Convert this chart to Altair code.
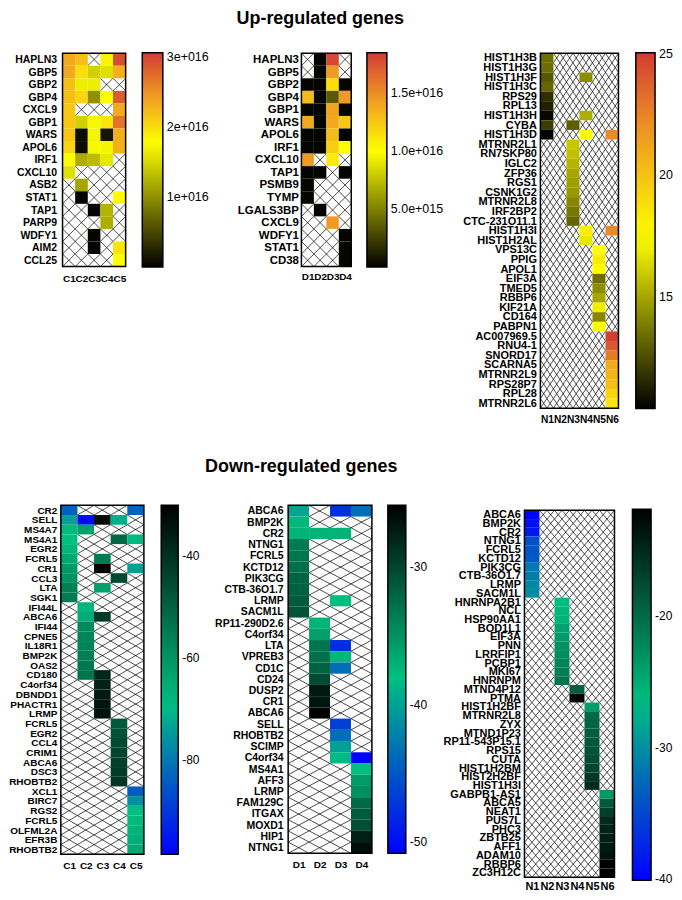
import altair as alt
import pandas as pd

N = None
FONT = "Liberation Sans"
E16 = 1e16

# ------------------------------------------------------------------ data
UP_C_COLS = ["C1", "C2", "C3", "C4", "C5"]
UP_C_GENES = ["HAPLN3", "GBP5", "GBP2", "GBP4", "CXCL9", "GBP1", "WARS", "APOL6", "IRF1",
              "CXCL10", "ASB2", "STAT1", "TAP1", "PARP9", "WDFY1", "AIM2", "CCL25"]
UP_C_VALUES = [  # units of 1e16
    [2.35, 2.2, N, 1.85, 2.95],
    [2.35, 2.0, 1.45, 1.55, 2.3],
    [2.2, 1.65, 1.65, N, N],
    [2.2, 2.05, 1.0, 1.77, 2.85],
    [2.15, N, N, N, 2.35],
    [2.15, 1.45, 1.72, 1.95, 2.7],
    [2.15, 0.1, 1.7, 0.15, 2.3],
    [2.05, 0.1, 1.72, 1.7, 2.3],
    [1.8, 1.2, 1.3, 1.6, N],
    [1.55, N, N, N, N],
    [N, 1.15, N, N, N],
    [N, 0.03, N, N, 1.8],
    [N, N, 0.03, 1.25, N],
    [N, N, N, 1.2, N],
    [N, N, 0.03, N, N],
    [N, N, 0.03, N, 1.95],
    [N, N, N, N, 1.8],
]

UP_D_COLS = ["D1", "D2", "D3", "D4"]
UP_D_GENES = ["HAPLN3", "GBP5", "GBP2", "GBP4", "GBP1", "WARS", "APOL6", "IRF1", "CXCL10",
              "TAP1", "PSMB9", "TYMP", "LGALS3BP", "CXCL9", "WDFY1", "STAT1", "CD38"]
UP_D_VALUES = [  # units of 1e16
    [N, 0.02, 1.8, N],
    [N, 0.02, 1.45, N],
    [0.02, 0.02, 1.15, 0.02],
    [1.3, 0.02, 0.35, 1.45],
    [0.02, 0.02, 1.4, 0.02],
    [1.38, 0.02, 1.38, 1.25],
    [0.02, 0.02, 1.3, 0.02],
    [0.02, 0.02, 1.22, 1.0],
    [1.45, N, 1.1, N],
    [0.02, 0.02, N, 0.02],
    [0.02, N, N, N],
    [0.02, N, N, N],
    [N, 0.02, N, N],
    [N, N, 1.45, N],
    [N, N, N, 0.02],
    [N, N, N, 0.02],
    [N, N, N, 0.02],
]

UP_N_COLS = ["N1", "N2", "N3", "N4", "N5", "N6"]
UP_N_GENES = ["HIST1H3B", "HIST1H3G", "HIST1H3F", "HIST1H3C", "RPS29", "RPL13", "HIST1H3H",
              "CYBA", "HIST1H3D", "MTRNR2L1", "RN7SKP80", "IGLC2", "ZFP36", "RGS1", "CSNK1G2",
              "MTRNR2L8", "IRF2BP2", "CTC-231O11.1", "HIST1H3I", "HIST1H2AL", "VPS13C", "PPIG",
              "APOL1", "EIF3A", "TMED5", "RBBP6", "KIF21A", "CD164", "PABPN1", "AC007969.5",
              "RNU4-1", "SNORD17", "SCARNA5", "MTRNR2L9", "RPS28P7", "RPL28", "MTRNR2L6"]
UP_N_VALUES = [
    [13.4, N, N, N, N, N],
    [13.4, N, N, N, N, N],
    [12.8, N, N, 14.3, N, N],
    [13.2, N, N, N, N, N],
    [11.7, N, N, N, N, N],
    [11.3, N, N, N, N, N],
    [10.6, N, N, 15.2, N, N],
    [12.1, N, 13.0, N, N, N],
    [10.45, N, N, 17.4, N, 22.3],
    [N, N, 15.9, N, N, N],
    [N, N, 15.7, N, N, N],
    [N, N, 15.4, N, N, N],
    [N, N, 15.0, N, N, N],
    [N, N, 14.8, N, N, N],
    [N, N, 14.6, N, N, N],
    [N, N, 14.1, N, N, N],
    [N, N, 13.7, N, N, N],
    [N, N, 13.2, N, N, N],
    [N, N, N, 18.2, N, 22.3],
    [N, N, N, 16.8, N, N],
    [N, N, N, N, 17.4, N],
    [N, N, N, N, 18.3, N],
    [N, N, N, N, 17.6, N],
    [N, N, N, N, 13.4, N],
    [N, N, N, N, 14.3, N],
    [N, N, N, N, 15.0, N],
    [N, N, N, N, 17.0, N],
    [N, N, N, N, 14.1, N],
    [N, N, N, N, 17.3, N],
    [N, N, N, N, N, 25.0],
    [N, N, N, N, N, 24.0],
    [N, N, N, N, N, 22.8],
    [N, N, N, N, N, 21.0],
    [N, N, N, N, N, 20.6],
    [N, N, N, N, N, 20.2],
    [N, N, N, N, N, 19.2],
    [N, N, N, N, N, 18.6],
]

DN_C_COLS = ["C1", "C2", "C3", "C4", "C5"]
DN_C_GENES = ["CR2", "SELL", "MS4A7", "MS4A1", "EGR2", "FCRL5", "CR1", "CCL3", "LTA", "SGK1",
              "IFI44L", "ABCA6", "IFI44", "CPNE5", "IL18R1", "BMP2K", "OAS2", "CD180", "C4orf34",
              "DBNDD1", "PHACTR1", "LRMP", "FCRL5", "EGR2", "CCL4", "CRIM1", "ABCA6", "DSC3",
              "RHOBTB2", "XCL1", "BIRC7", "RGS2", "FCRL5", "OLFML2A", "EFR3B", "RHOBTB2"]
DN_C_VALUES = [
    [-83.5, N, N, N, -83.5],
    [-74, -97, -32, -72, N],
    [-68, -62.5, N, N, N],
    [-69, N, N, -51.5, -70],
    [-67, N, N, N, N],
    [-64, N, -55, N, N],
    [-61, N, -30.5, N, -74],
    [-60, N, N, -45, N],
    [-56, N, -62.5, N, N],
    [-55, N, N, N, N],
    [N, -67, N, N, N],
    [N, -65, -42, N, N],
    [N, -58, N, N, N],
    [N, -57, N, N, N],
    [N, -57, N, N, N],
    [N, -55.5, N, N, N],
    [N, -54.5, N, N, N],
    [N, -53.5, -38, N, N],
    [N, N, -37, N, N],
    [N, N, -35.5, N, N],
    [N, N, -34.5, N, N],
    [N, N, -34, N, N],
    [N, N, N, -48, N],
    [N, N, N, -46.5, N],
    [N, N, N, -45, N],
    [N, N, N, -44, N],
    [N, N, N, -43, N],
    [N, N, N, -42, N],
    [N, N, N, -41, N],
    [N, N, N, N, -84.5],
    [N, N, N, N, -76.5],
    [N, N, N, N, -69],
    [N, N, N, N, -68],
    [N, N, N, N, -66.5],
    [N, N, N, N, -65.5],
    [N, N, N, N, -64.5],
]

DN_D_COLS = ["D1", "D2", "D3", "D4"]
DN_D_GENES = ["ABCA6", "BMP2K", "CR2", "NTNG1", "FCRL5", "KCTD12", "PIK3CG", "CTB-36O1.7",
              "LRMP", "SACM1L", "RP11-290D2.6", "C4orf34", "LTA", "VPREB3", "CD1C", "CD24",
              "DUSP2", "CR1", "ABCA6", "SELL", "RHOBTB2", "SCIMP", "C4orf34", "MS4A1", "AFF3",
              "LRMP", "FAM129C", "ITGAX", "MOXD1", "HIP1", "NTNG1"]
DN_D_VALUES = [
    [-39.7, N, -47.6, -43.4],
    [-37.5, N, N, N],
    [-37.2, -37.2, -37.2, N],
    [-33.5, N, N, N],
    [-33.2, N, N, N],
    [-32.8, N, N, N],
    [-32.0, N, N, N],
    [-31.8, N, N, N],
    [-31.4, N, -38.0, N],
    [-31.0, N, N, N],
    [N, -37.2, N, N],
    [N, -35.9, N, N],
    [N, -33.2, -47.8, N],
    [N, -32.8, -37.5, N],
    [N, -31.8, -43.4, N],
    [N, -30.4, N, N],
    [N, -27.2, N, N],
    [N, -27.0, N, N],
    [N, -25.6, N, N],
    [N, N, -46.5, N],
    [N, N, -43.4, N],
    [N, N, -40.1, N],
    [N, N, -38.5, -50.6],
    [N, N, N, -38.0],
    [N, N, N, -35.5],
    [N, N, N, -34.9],
    [N, N, N, -32.4],
    [N, N, N, -31.4],
    [N, N, N, -30.6],
    [N, N, N, -27.6],
    [N, N, N, -26.4],
]

DN_N_COLS = ["N1", "N2", "N3", "N4", "N5", "N6"]
DN_N_GENES = ["ABCA6", "BMP2K", "CR2", "NTNG1", "FCRL5", "KCTD12", "PIK3CG", "CTB-36O1.7",
              "LRMP", "SACM1L", "HNRNPA2B1", "NCL", "HSP90AA1", "BOD1L1", "EIF3A", "PNN",
              "LRRFIP1", "PCBP1", "MKI67", "HNRNPM", "MTND4P12", "PTMA", "HIST1H2BF",
              "MTRNR2L8", "ZYX", "MTND1P23", "RP11-543P15.1", "RPS15", "CUTA", "HIST1H2BM",
              "HIST2H2BF", "HIST1H3I", "GABPB1-AS1", "ABCA5", "NEAT1", "PUS7L", "PHC3",
              "ZBTB25", "AFF1", "ADAM10", "RBBP6", "ZC3H12C"]
DN_N_VALUES = [
    [-40.0, N, N, N, N, N],
    [-39.0, N, N, N, N, N],
    [-38.4, N, N, N, N, N],
    [-34.4, N, N, N, N, N],
    [-34.1, N, N, N, N, N],
    [-33.9, N, N, N, N, N],
    [-31.6, N, N, N, N, N],
    [-31.3, N, N, N, N, N],
    [-30.5, N, N, N, N, N],
    [-30.2, N, N, N, N, N],
    [N, N, -26.8, N, N, N],
    [N, N, -25.9, N, N, N],
    [N, N, -25.6, N, N, N],
    [N, N, -24.3, N, N, N],
    [N, N, -23.7, N, N, N],
    [N, N, -23.1, N, N, N],
    [N, N, -22.5, N, N, N],
    [N, N, -22.0, N, N, N],
    [N, N, -21.4, N, N, N],
    [N, N, -20.7, N, N, N],
    [N, N, N, -19.2, N, N],
    [N, N, N, -11.9, N, N],
    [N, N, N, N, -24.0, N],
    [N, N, N, N, -19.9, N],
    [N, N, N, N, -19.5, N],
    [N, N, N, N, -19.0, N],
    [N, N, N, N, -18.6, N],
    [N, N, N, N, -18.1, N],
    [N, N, N, N, -17.7, N],
    [N, N, N, N, -17.2, N],
    [N, N, N, N, -16.3, N],
    [N, N, N, N, -15.1, N],
    [N, N, N, N, N, -23.6],
    [N, N, N, N, N, -18.7],
    [N, N, N, N, N, -16.7],
    [N, N, N, N, N, -15.1],
    [N, N, N, N, N, -14.5],
    [N, N, N, N, N, -14.2],
    [N, N, N, N, N, -13.9],
    [N, N, N, N, N, -13.3],
    [N, N, N, N, N, -12.1],
    [N, N, N, N, N, -11.9],
]

# colour-bar stops (value positions of the palette colours) and tick values
UP_C_STOPS = [0, 1.77e16, 2.45e16, 3.06e16]
UP_D_STOPS = [0, 1.0e16, 1.45e16, 1.85e16]
UP_N_STOPS = [10.4, 17.45, 21.7, 25.05]
DN_C_STOPS = [-98.6, -69.0, -30.0]
DN_D_STOPS = [-50.8, -38.0, -25.5]
DN_N_STOPS = [-40.1, -26.5, -11.85]
UP_C_TICKS = [1e16, 2e16, 3e16]
UP_D_TICKS = [5e15, 1e16, 1.5e16]
UP_N_TICKS = [15, 20, 25]
DN_C_TICKS = [-80, -60, -40]
DN_D_TICKS = [-50, -40, -30]
DN_N_TICKS = [-40, -30, -20]

UP_PALETTE = ["#000000", "#ffff00", "#ef9a22", "#d23c34"]
DN_PALETTE = ["#0000ff", "#00c080", "#000000"]


def frames(values, unit, nsub):
    cells, hatch = [], []
    for r, row in enumerate(values):
        for c, v in enumerate(row):
            if v is None:
                for k in range(nsub):
                    xa, xb = c + k / nsub, c + (k + 1) / nsub
                    hatch.append({"x0": xa, "x1": xb, "y0": r, "y1": r + 1})
                    hatch.append({"x0": xa, "x1": xb, "y0": r + 1, "y1": r})
            else:
                cells.append({"x0": c, "x1": c + 1, "y0": r, "y1": r + 1, "v": v * unit})
    return pd.DataFrame(cells), pd.DataFrame(hatch)


def arr_expr(names):
    return "[" + ",".join("'%s'" % n for n in names) + "][floor(datum.value)]"


def panel(genes, cols, values, unit, stops, palette, ticks, tick_expr,
          heat_w, view_w, shift, heat_h, top_pad, nsub, gene_size, gene_pad, col_size,
          col_pad, lx, ly, llen, lthick, lsize, title=None):
    """shift: empty pixels left of the heatmap inside the view."""
    nr, nc = len(genes), len(cols)
    cells, hatch = frames(values, unit, nsub)
    frame = pd.DataFrame({"x0": [0], "x1": [nc], "y0": [0], "y1": [nr]})
    per_px = nc / heat_w
    xs = alt.Scale(domain=[-shift * per_px, (view_w - shift) * per_px], nice=False, zero=False)
    ys = alt.Scale(domain=[-nr * top_pad / heat_h, nr], nice=False, zero=False, reverse=True)
    xax = alt.Axis(values=[c + 0.5 for c in range(nc)], labelExpr=arr_expr(cols), ticks=False,
                   domain=False, grid=False, title=None, labelAngle=0, labelFont=FONT,
                   labelFontWeight="bold", labelFontSize=col_size, labelColor="black",
                   labelPadding=col_pad, labelOverlap=False, labelFlush=False)
    yax = alt.Axis(values=[r + 0.5 for r in range(nr)], labelExpr=arr_expr(genes), ticks=False,
                   domain=False, grid=False, title=None, labelFont=FONT,
                   labelFontWeight="bold", labelFontSize=gene_size, labelColor="black",
                   labelPadding=gene_pad, labelOverlap=False, labelFlush=False,
                   offset=-shift)
    X = alt.X("x0:Q", scale=xs, axis=xax)
    Y = alt.Y("y0:Q", scale=ys, axis=yax)
    leg = alt.Legend(type="gradient", orient="none", legendX=shift + lx, legendY=ly,
                     direction="vertical", gradientLength=llen, gradientThickness=lthick,
                     gradientStrokeColor="black", gradientStrokeWidth=1.5, values=ticks,
                     labelExpr=tick_expr, labelFont=FONT, labelFontSize=lsize,
                     labelColor="black", labelOffset=4, title=None, padding=0,
                     labelOverlap=False)
    hatch_l = alt.Chart(hatch).mark_rule(color="black", strokeWidth=0.7).encode(
        x=X, x2="x1:Q", y=Y, y2="y1:Q")
    cell_l = alt.Chart(cells).mark_rect().encode(
        x=X, x2="x1:Q", y=Y, y2="y1:Q",
        color=alt.Color("v:Q", scale=alt.Scale(domain=stops, range=palette, interpolate="rgb"),
                        legend=leg))
    frame_l = alt.Chart(frame).mark_rect(filled=False, color="black", strokeWidth=1.5).encode(
        x=X, x2="x1:Q", y=Y, y2="y1:Q")
    ch = alt.layer(hatch_l, cell_l, frame_l).properties(width=view_w, height=heat_h + top_pad)
    if title is not None:
        ch = ch.properties(title=title)
    return ch


E_EXPR0 = "replace(format(datum.value, '.0e'), 'e+', 'e+0')"
E_EXPR1 = "replace(format(datum.value, '.1e'), 'e+', 'e+0')"
PLAIN = "'' + datum.value"


def ttl(text, dx, off):
    return alt.TitleParams(text=text, font=FONT, fontSize=18, fontWeight="bold", color="black",
                           anchor="middle", frame="group", dx=dx, offset=off,
                           baseline="alphabetic")


# column 1 views are 227.7 px wide, column 2 views 236.3 px (shared grid columns)
up_c = panel(UP_C_GENES, UP_C_COLS, UP_C_VALUES, E16, UP_C_STOPS, UP_PALETTE, UP_C_TICKS,
             E_EXPR0, 63.3, 227.7, 1.7, 214, 0, 1, 10.5, 6, 10, 7, 80, -0.5, 215, 20.6, 12.5)
up_d = panel(UP_D_GENES, UP_D_COLS, UP_D_VALUES, E16, UP_D_STOPS, UP_PALETTE, UP_D_TICKS,
             E_EXPR1, 50, 236.3, 13.3, 214, 0, 1, 11.5, 3, 10, 5, 65.7, -0.5, 215, 20, 12.5,
             title=ttl("Up-regulated genes", -86, 11))
up_n = panel(UP_N_GENES, UP_N_COLS, UP_N_VALUES, 1, UP_N_STOPS, UP_PALETTE, UP_N_TICKS,
             PLAIN, 78.3, 94.3, 16, 356, 0, 2, 11, 4, 10.2, 6, 95.7, -0.5, 357, 19.3, 12.5)
dn_c = panel(DN_C_GENES, DN_C_COLS, DN_C_VALUES, 1, DN_C_STOPS, DN_PALETTE, DN_C_TICKS,
             PLAIN, 83.3, 227.7, 0, 350, 0, 1, 10, 4, 10, 6, 100.7, 0, 350, 17, 12)
dn_d = panel(DN_D_GENES, DN_D_COLS, DN_D_VALUES, 1, DN_D_STOPS, DN_PALETTE, DN_D_TICKS,
             PLAIN, 84, 236.3, 0, 349, 0, 1, 10.5, 5, 10, 6, 100, 0, 349, 18, 12,
             title=ttl("Down-regulated genes", -105, 15))
dn_n = panel(DN_N_GENES, DN_N_COLS, DN_N_VALUES, 1, DN_N_STOPS, DN_PALETTE, DN_N_TICKS,
             PLAIN, 90.3, 90.3, 0, 368, 5, 2, 11, 4, 11, 3, 108.3, 4, 372, 18.7, 12)

chart = alt.concat(
    up_c, up_d, up_n, dn_c, dn_d, dn_n,
    columns=3,
    spacing={"row": 97.5, "column": 0},
    bounds="flush",
    align={"row": "each", "column": "each"},
).resolve_scale(
    x="independent", y="independent", color="independent"
).resolve_legend(color="independent").configure_view(
    strokeWidth=0
).properties(padding={"left": 0, "top": 0, "right": 0, "bottom": 0}, background="white")

chart.save("out.html", embed_options={"renderer": "svg", "actions": False})
